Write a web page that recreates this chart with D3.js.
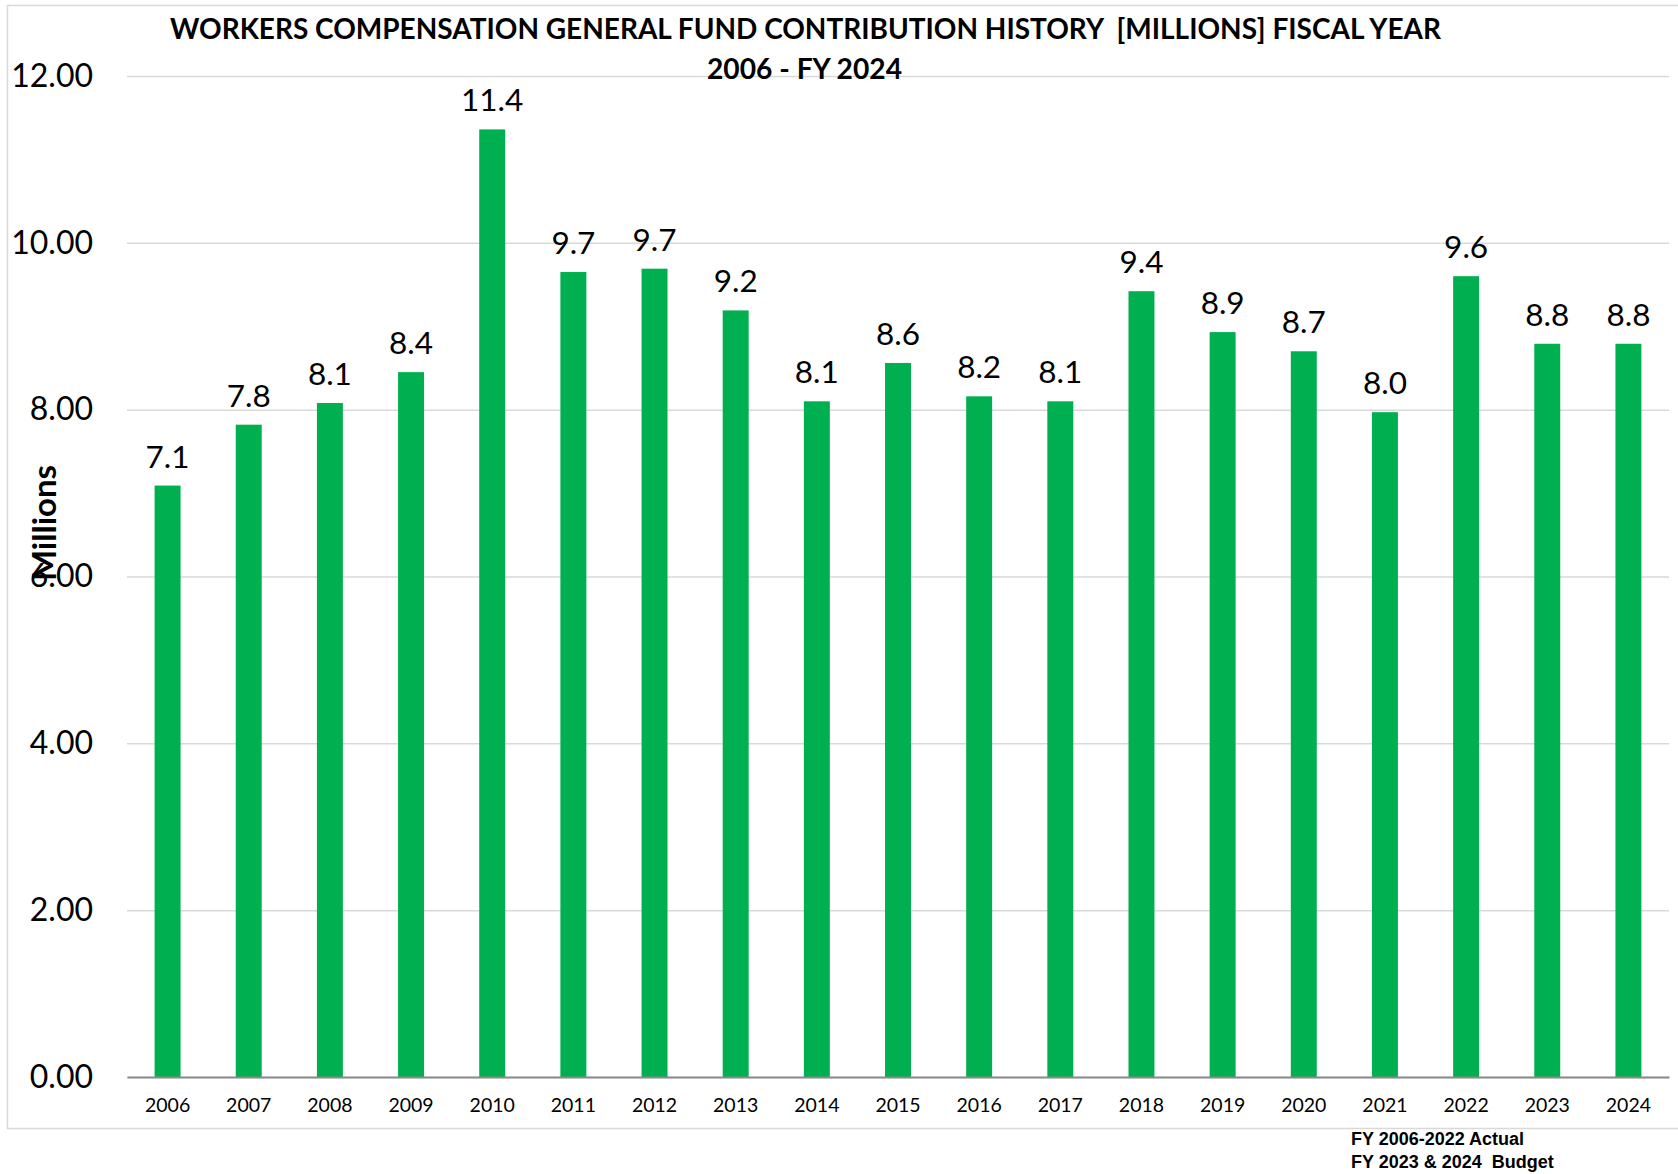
<!DOCTYPE html>
<html>
<head>
<meta charset="utf-8">
<script src="https://cdn.jsdelivr.net/npm/d3@7"></script>
<style>
  body { margin: 0; background: white; }
  svg { display: block; }
</style>
</head>
<body>
<svg id="chart"></svg>
<script>
var years = ['2006', '2007', '2008', '2009', '2010', '2011', '2012', '2013', '2014',
             '2015', '2016', '2017', '2018', '2019', '2020', '2021', '2022', '2023', '2024'];
var contributions = [7.09, 7.82, 8.08, 8.45, 11.36, 9.65, 9.69, 9.19, 8.10,
                     8.56, 8.16, 8.10, 9.42, 8.93, 8.70, 7.97, 9.60, 8.79, 8.79];
var yTicks = [0, 2, 4, 6, 8, 10, 12];
var titleLines = ['WORKERS COMPENSATION GENERAL FUND CONTRIBUTION HISTORY  [MILLIONS] FISCAL YEAR',
                  '2006 - FY 2024'];
var noteLines = ['FY 2006-2022 Actual', 'FY 2023 & 2024  Budget'];

var width = 1678;
var height = 1174;
var plotLeft = 127, plotRight = 1669, plotTop = 76, plotBottom = 1077;
var mainFont = "Lato, 'Open Sans', sans-serif";

var svg = d3.select("#chart")
            .attr("width", width)
            .attr("height", height);

//chart border
svg.append("rect")
  .attr("x", 7.5)
  .attr("y", 5.5)
  .attr("width", width)
  .attr("height", 1123)
  .attr("fill", "white")
  .attr("stroke", "#d9d9d9")
  .attr("stroke-width", 1.5);

var x = d3.scaleBand()
  .domain(years)
  .range([plotLeft, plotRight])
  .paddingInner(0.68)
  .paddingOuter(0.34);

var y = d3.scaleLinear()
  .domain([0, 12])
  .range([plotBottom, plotTop]);

//gridlines + y labels
var yAxis = svg.append("g")
  .attr("transform", "translate(" + plotLeft + ",0)")
  .call(d3.axisLeft(y)
    .tickValues(yTicks)
    .tickSize(-(plotRight - plotLeft))
    .tickPadding(34)
    .tickFormat(d3.format(".2f")));

yAxis.select(".domain").remove();
yAxis.selectAll(".tick line")
  .attr("stroke", "#d9d9d9")
  .attr("stroke-width", 1.5);
yAxis.selectAll(".tick text")
  .attr("font-family", mainFont)
  .attr("font-size", "32px")
  .attr("fill", "#000");

//bars
var bars = svg.append("g");

bars.selectAll("rect")
  .data(contributions)
  .enter().append("rect")
  .attr("x", function(d, i) { return x(years[i]); })
  .attr("y", function(d) { return y(d); })
  .attr("width", x.bandwidth())
  .attr("height", function(d) { return y(0) - y(d); })
  .attr("fill", "#00B050");

bars.selectAll("text")
  .data(contributions)
  .enter().append("text")
  .text(function(d) { return d.toFixed(1); })
  .attr("font-family", mainFont)
  .attr("font-size", "31.5px")
  .attr("text-anchor", "middle")
  .attr("x", function(d, i) { return x(years[i]) + x.bandwidth() / 2; })
  .attr("y", function(d) { return y(d) - 18; });

//x axis
var xAxis = svg.append("g")
  .attr("transform", "translate(0," + plotBottom + ")")
  .call(d3.axisBottom(x).tickSize(0).tickPadding(21));

xAxis.select(".domain")
  .attr("stroke", "#898989")
  .attr("stroke-width", 2);
xAxis.selectAll(".tick text")
  .attr("font-family", mainFont)
  .attr("font-size", "19.5px")
  .attr("fill", "#000");

//title
svg.append("text")
  .text(titleLines[0])
  .attr("font-family", mainFont)
  .attr("font-weight", "bold")
  .attr("font-size", "28px")
  .attr("x", 170)
  .attr("y", 39)
  .attr("textLength", 1271)
  .attr("lengthAdjust", "spacingAndGlyphs")
  .style("white-space", "pre");

svg.append("text")
  .text(titleLines[1])
  .attr("font-family", mainFont)
  .attr("font-weight", "bold")
  .attr("font-size", "28px")
  .attr("x", 707)
  .attr("y", 79)
  .attr("textLength", 195)
  .attr("lengthAdjust", "spacingAndGlyphs");

//y axis title
svg.append("text")
  .text("Millions")
  .attr("font-family", mainFont)
  .attr("font-weight", "bold")
  .attr("font-size", "33px")
  .attr("text-anchor", "middle")
  .attr("transform", "translate(56,523) rotate(-90)");

//note bottom right
noteLines.forEach(function(d, i) {
  svg.append("text")
    .text(d)
    .attr("font-family", "'Liberation Sans', Arial, sans-serif")
    .attr("font-weight", "bold")
    .attr("font-size", "18px")
    .attr("x", 1351)
    .attr("y", 1145 + i * 23)
    .style("white-space", "pre");
});
</script>
</body>
</html>
